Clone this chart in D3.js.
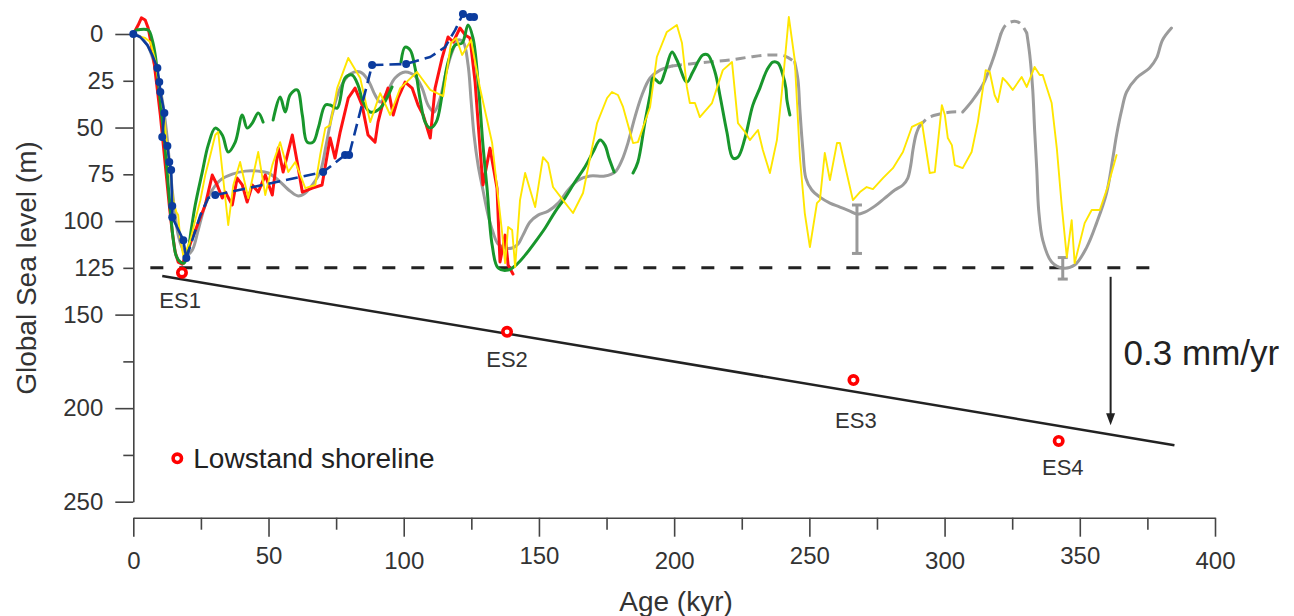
<!DOCTYPE html>
<html>
<head>
<meta charset="utf-8">
<script src="https://cdn.jsdelivr.net/npm/d3@7"></script>
<style>
  html, body { margin: 0; padding: 0; background: #fff; }
  svg { display: block; font-family: "Liberation Sans", Arial, sans-serif; }
</style>
</head>
<body>
<svg id="chart" width="1294" height="616"></svg>
<script>
// ---- data: [age (kyr), sea level below present (m)] ----
const graySolid = [
  [[0,0],[2.6,1.6],[5.2,5.9],[7.4,13.9],[9.2,24.6],[10.7,35.3],[12.2,51.3],[13.3,67.4],[14.4,83.4],[15.5,96.8],[16.6,107.5],[18.1,114.4],[19.6,118.2],[21.8,115.5],[24.0,104.8],[26.6,91.4],[29.2,83.4],[32.2,78.1],[36.6,74.9],[41.4,73.3],[46.2,73.3],[49.9,74.3],[53.6,78.1],[58.0,84.0],[61.0,86.6],[63.6,85.0],[66.2,80.7],[69.1,73.8],[71.3,59.4],[73.5,43.3],[76.5,28.9],[80.2,21.4],[83.9,20.3],[86.8,24.6],[89.4,32.6],[91.3,36.4],[93.9,31.0],[96.8,23.5],[100.5,20.3],[104.2,22.5],[106.8,28.9],[109.0,38.0],[111.2,41.7],[113.5,34.2],[115.7,20.3],[117.9,9.6],[120.1,3.2],[122.0,4.3],[123.8,16.6],[124.9,35.3],[126.0,54.0],[127.5,70.1],[129.3,83.4],[131.2,96.8],[133.0,105.9],[134.9,112.3],[137.5,114.4],[140.1,114.4],[142.3,112.3],[144.1,107.5],[146.7,100.5],[149.7,96.8],[153.4,94.7],[157.1,90.4],[160.8,83.4],[164.5,78.1],[168.9,75.9],[174.4,75.9],[178.1,73.8],[180.7,67.4],[183.0,57.8],[185.5,44.4],[188.1,32.6],[191.1,23.5],[194.8,19.3],[199.2,17.1]],
  [[244.6,15.0],[245.8,24.6],[246.5,40.6],[247.6,62.0],[248.7,77.0],[250.9,83.4],[253.9,87.2],[257.6,90.4],[261.3,92.5],[265.0,94.7],[267.6,96.3],[270.5,95.2],[274.2,92.0],[277.9,87.7],[281.6,83.4],[284.6,80.7],[286.4,77.0],[287.5,70.1],[288.3,62.0],[289.4,54.0],[290.5,49.7]],
  [[306.7,41.7],[310.4,35.3],[314.1,27.3],[317.8,13.9],[320.8,0]],
  [[330.4,-0.5],[331.5,11.2],[332.6,29.9],[333.3,51.3],[334.1,72.7],[334.8,94.1],[336.3,110.2],[339.6,121.9],[343.7,125.1],[348.1,123.5],[352.6,113.9],[356.2,101.1],[359.9,85.0],[362.1,67.4],[363.6,54.0],[365.5,40.6],[367.3,31.0],[371.0,23.5],[375.8,18.2],[378.4,12.8],[380.6,3.2],[383.9,-3.2]]
];
const grayDashed = [
  [[199.2,17.1],[205.8,16.0],[213.2,14.9],[220.6,13.9],[228.0,12.3],[235.4,11.2],[241.0,11.8],[244.6,15.0]],
  [[290.5,49.7],[293.8,44.9],[298.2,42.8],[302.7,41.7],[306.7,41.7]],
  [[320.8,0],[322.6,-4.8],[325.2,-6.7],[327.8,-5.9],[330.4,-0.5]]
];
const grayErrAge = [267.6, 343.7];
const grayErrLow = [91.4, 119.5];
const grayErrHigh = [117.3, 131.0];

const redCurve = [[0,0],[1.8,-4.8],[3.0,-8.6],[4.4,-7.5],[5.5,-3.2],[6.7,5.9],[7.8,16.6],[8.9,29.9],[10.0,43.3],[11.1,59.4],[12.2,75.4],[13.3,91.4],[14.4,105.9],[15.5,116.6],[16.6,121.9],[18.1,123.0],[20.0,116.6],[21.8,109.1],[23.7,102.1],[26.6,91.4],[29.2,75.4],[31.0,80.7],[32.9,87.7],[34.0,84.5],[36.6,91.4],[38.4,77.0],[40.3,80.7],[42.1,89.8],[44.0,80.7],[46.2,84.5],[48.8,75.4],[51.4,86.1],[53.6,61.0],[55.4,73.8],[58.8,54.0],[60.6,68.4],[62.5,84.5],[66.2,82.4],[69.8,80.7],[72.8,55.6],[74.6,66.3],[76.5,52.4],[79.5,34.2],[82.0,28.9],[84.6,38.0],[86.8,54.0],[89.4,57.8],[90.5,47.1],[92.4,36.4],[94.2,28.9],[96.1,43.3],[97.9,34.2],[100.5,25.7],[103.1,28.9],[105.3,38.0],[107.2,43.3],[109.8,55.6],[111.6,28.9],[114.2,12.8],[116.4,1.6],[118.3,4.3],[120.8,-3.2],[122.7,0.5],[124.5,2.1],[126.4,25.7],[128.2,61.0],[129.3,80.7],[131.9,61.0],[134.5,82.4],[135.6,121.9],[137.5,107.5],[138.6,123.5],[140.4,128.3]];

const greenCurve = [
  [[1.1,-2.1],[5.5,-2.1],[7.0,3.2],[8.1,11.2],[9.2,24.6],[10.3,40.6],[11.5,56.7],[12.6,75.4],[13.7,94.1],[14.8,110.2],[15.9,118.7],[17.4,121.9],[18.8,122.5],[20.3,115.5],[21.4,104.8],[22.9,91.4],[25.5,73.8],[27.7,59.4],[30.3,50.3],[32.9,54.0],[35.1,63.1],[37.7,57.8],[40.3,43.3],[42.1,50.3],[44.0,47.6],[46.2,42.2],[48.0,47.1]],
  [[51.7,46.0],[54.3,33.7],[56.2,41.7],[58.0,32.6],[60.6,29.9],[62.5,43.3],[64.3,57.8],[66.5,57.8],[68.4,50.3],[71.0,38.0],[72.8,38.0],[75.4,39.6],[78.3,23.5],[80.9,21.9],[83.1,27.3],[85.0,36.4],[87.6,41.7],[91.3,39.6],[95.7,28.3]],
  [[99.0,15.0],[100.5,7.0],[102.4,8.6],[104.2,18.2],[106.1,35.3],[107.9,47.1],[109.8,50.3],[112.0,47.1],[114.2,32.6],[116.4,15.0],[119.0,5.9],[121.6,4.8],[123.8,-4.8],[125.6,2.1],[127.5,25.7],[129.3,59.4],[130.8,82.4],[132.7,112.8],[134.9,125.1],[138.6,126.2],[141.9,123.0],[144.9,118.2],[148.6,111.2],[152.3,103.7],[155.9,95.2],[159.6,87.7],[163.3,79.1],[167.0,71.1],[170.0,63.1],[172.6,56.7],[174.4,59.4],[175.9,66.3],[177.8,73.8]],
  [[184.8,74.3],[186.6,68.4],[189.2,47.1],[191.1,32.6],[192.2,23.5],[194.8,26.2],[196.6,20.3],[199.2,9.6],[201.0,13.9],[204.7,25.7],[206.9,20.3],[210.6,11.2],[212.5,11.2],[215.1,20.3],[216.9,32.6],[219.5,52.4],[221.7,66.3],[223.6,65.8],[226.2,55.6],[229.1,38.0],[231.7,28.9],[234.3,19.3],[236.5,15.0],[238.4,15.5],[240.2,21.9],[241.3,28.9],[241.7,35.3],[242.8,43.3]]
];

const yellowCurve = [[1.8,1.1],[4.4,2.1],[6.3,4.3],[8.1,13.9],[9.2,24.6],[10.3,32.6],[11.5,46.0],[12.6,62.0],[13.7,75.4],[14.8,88.8],[15.9,95.2],[16.6,96.8],[17.4,110.2],[18.5,118.7],[19.6,115.5],[21.1,110.2],[22.9,99.5],[24.8,88.8],[26.6,75.4],[28.5,64.7],[30.3,54.0],[31.4,52.4],[32.9,72.7],[35.1,102.1],[37.0,80.7],[39.5,68.4],[42.5,87.7],[46.2,63.1],[48.8,86.1],[51.4,70.1],[54.3,57.8],[57.3,73.8],[59.9,68.4],[63.6,82.4],[67.3,80.7],[69.1,64.7],[71.0,50.3],[72.8,48.7],[75.4,28.9],[79.5,12.8],[83.9,23.5],[87.6,47.1],[91.3,31.6],[95.0,43.3],[98.7,28.9],[104.9,20.3],[109.8,29.9],[114.6,33.2],[117.5,4.8],[119.4,2.1],[121.6,11.2],[124.9,3.2],[128.2,28.9],[132.7,58.3],[134.5,81.8],[136.4,106.4],[137.5,122.5],[138.6,103.2],[140.1,104.8],[141.2,124.6],[143.0,88.8],[144.9,74.3],[148.6,92.5],[151.5,65.8],[153.4,69.0],[155.2,81.8],[158.9,88.8],[162.6,95.7],[166.3,85.0],[171.5,47.6],[175.2,34.2],[177.0,31.0],[179.2,32.6],[181.1,39.0],[184.8,58.3],[186.6,57.8],[191.1,39.0],[193.6,12.3],[197.3,-1.1],[201.0,-4.8],[202.9,4.8],[204.7,28.3],[205.8,36.9],[207.7,36.9],[209.5,44.4],[214.0,36.9],[218.0,19.3],[221.4,15.0],[223.6,47.6],[226.2,52.4],[228.0,56.7],[231.0,51.3],[232.8,62.0],[235.4,74.3],[238.0,56.7],[239.8,31.6],[242.4,-9.1],[244.6,13.9],[246.5,65.8],[248.3,95.7],[250.2,113.9],[252.8,90.4],[253.9,88.8],[255.7,63.6],[257.6,78.1],[260.2,58.3],[261.3,58.3],[263.8,74.3],[266.1,88.8],[268.7,84.5],[271.2,81.8],[273.5,82.9],[277.2,77.0],[280.9,71.7],[284.6,63.1],[287.9,49.7],[291.6,47.1],[294.5,74.3],[296.4,73.8],[299.0,38.0],[300.1,43.3],[301.2,55.6],[302.7,59.4],[303.8,70.1],[306.7,71.7],[310.0,63.1],[312.3,47.1],[315.2,19.3],[316.7,20.3],[318.5,32.6],[319.7,36.4],[321.5,23.5],[323.0,25.7],[325.2,29.9],[328.5,23.0],[330.4,28.3],[333.3,17.6],[335.2,21.9],[336.3,21.9],[339.6,36.9],[341.5,61.0],[343.3,91.4],[345.2,119.3],[347.0,99.5],[348.1,122.5],[351.8,101.1],[354.4,94.1],[357.4,94.1],[360.3,81.8],[363.6,64.7]];

const blueSolid = [[0,0],[2.6,1.6],[5.2,5.9],[7.0,11.2],[8.9,18.2],[9.6,25.7],[10.0,31.0],[11.5,42.2],[10.7,55.1],[12.6,59.9],[13.3,68.4],[14.0,72.7],[14.4,92.0],[14.4,97.9],[18.5,110.2],[19.6,119.8]];
const blueDashed = [[19.6,119.8],[21.8,110.2],[24.8,96.8],[27.7,87.7],[30.3,86.1],[70.2,73.8],[78.3,64.7],[79.8,64.7],[88.3,16.6],[100.9,16.0],[109.8,12.3],[115.3,7.0],[119.0,-2.1],[121.9,-10.7],[124.5,-9.1],[126.0,-9.1]];
const blueDots = [[0,0],[8.9,18.2],[9.6,25.7],[10.0,31.0],[11.5,42.2],[10.7,55.1],[12.6,59.9],[13.3,68.4],[14.0,72.7],[14.4,92.0],[14.4,97.9],[18.5,110.2],[19.6,119.8],[30.3,86.1],[70.2,73.8],[78.3,64.7],[79.8,64.7],[88.3,16.6],[100.9,16.0],[121.9,-10.7],[124.5,-9.1],[126.0,-9.1]];

// lowstand shorelines
const esNames = ["ES1", "ES2", "ES3", "ES4"];
const esAge = [18.0, 138.2, 266.3, 342.2];
const esLevel = [127.6, 159.2, 185.0, 217.5];
const esLabelAge = [17.3, 138.2, 267.2, 343.7];
const esLabelLevel = [146.5, 177.9, 210.7, 235.8];

const trendLine = [[10.7, 129.4], [385.0, 219.8]];
const lowstandLevel = 125;
const lowstandSpan = [6.3, 377.0];
const rateArrow = { age: 361.4, from: 129.8, to: 209.1 };
const rateLabel = "0.3 mm/yr";

const xMajor = [0, 50, 100, 150, 200, 250, 300, 350, 400];
const xMinor = [25, 75, 125, 175, 225, 275, 325, 375];
const yMajor = [0, 50, 100, 150, 200, 250];
const yMinor = [25, 75, 125, 175, 225];
const yMinorLabelled = [25, 75, 125];

// ---- chart ----
const svg = d3.select("#chart");
const x = d3.scaleLinear().domain([0, 400]).range([133.3, 1215]);
const y = d3.scaleLinear().domain([0, 250]).range([34, 501.7]);

const straight = d3.line().x(d => x(d[0])).y(d => y(d[1]));
const smooth = d3.line().x(d => x(d[0])).y(d => y(d[1])).curve(d3.curveCatmullRom.alpha(0.5));

// Axes
const axisColor = "#444";
const textColor = "#333";

svg.append("g")
    .attr("transform", `translate(${x(0)},0)`)
    .call(d3.axisLeft(y).tickValues(yMajor).tickSize(18).tickSizeOuter(0).tickPadding(12));
const yAxMinor = svg.append("g")
    .attr("transform", `translate(${x(0)},0)`)
    .call(d3.axisLeft(y).tickValues(yMinor).tickSize(10).tickPadding(9)
        .tickFormat(d => yMinorLabelled.includes(d) ? d : ""));
yAxMinor.select(".domain").remove();

const xAx = svg.append("g")
    .attr("transform", `translate(0,517.7)`)
    .call(d3.axisBottom(x).tickValues(xMajor).tickSize(19).tickSizeOuter(0).tickPadding(15));
xAx.selectAll(".tick text")
    .attr("y", (d, i) => i % 2 ? 29.5 : 34.5);
const xAxMinor = svg.append("g")
    .attr("transform", `translate(0,517.7)`)
    .call(d3.axisBottom(x).tickValues(xMinor).tickSize(12).tickFormat(""));
xAxMinor.select(".domain").remove();

svg.selectAll(".domain, .tick line").attr("stroke", axisColor).attr("stroke-width", 1.6);
svg.selectAll(".tick text")
    .attr("fill", textColor)
    .style("font-size", "24px")
    .style("font-family", "'Liberation Sans', Arial, sans-serif");

// Axis titles
svg.append("text")
    .attr("x", 676).attr("y", 611)
    .attr("text-anchor", "middle")
    .attr("fill", textColor)
    .style("font-size", "28px")
    .text("Age (kyr)");

svg.append("text")
    .attr("transform", "translate(36,268) rotate(-90)")
    .attr("text-anchor", "middle")
    .attr("fill", textColor)
    .style("font-size", "28px")
    .text("Global Sea level (m)");

// Lowstand reference and trend
svg.append("line")
    .attr("x1", x(lowstandSpan[0])).attr("x2", x(lowstandSpan[1]))
    .attr("y1", y(lowstandLevel)).attr("y2", y(lowstandLevel))
    .attr("stroke", "#222").attr("stroke-width", 3)
    .attr("stroke-dasharray", "13,16");

svg.append("path")
    .attr("d", straight(trendLine))
    .attr("fill", "none").attr("stroke", "#222").attr("stroke-width", 2.5);

// Curves
const curves = svg.append("g").attr("fill", "none")
    .attr("stroke-linejoin", "round").attr("stroke-linecap", "round");

graySolid.forEach(seg => {
  curves.append("path").attr("d", smooth(seg))
      .attr("stroke", "#9b9b9b").attr("stroke-width", 3);
});
grayDashed.forEach(seg => {
  curves.append("path").attr("d", smooth(seg))
      .attr("stroke", "#9b9b9b").attr("stroke-width", 3)
      .attr("stroke-linecap", "butt")
      .attr("stroke-dasharray", "10,6");
});

// Gray error bars
grayErrAge.forEach((a, i) => {
  const g = curves.append("g").attr("stroke", "#999").attr("stroke-width", 3)
      .attr("stroke-linecap", "butt");
  g.append("line").attr("x1", x(a)).attr("x2", x(a))
      .attr("y1", y(grayErrLow[i])).attr("y2", y(grayErrHigh[i]));
  [grayErrLow[i], grayErrHigh[i]].forEach(v => {
    g.append("line").attr("x1", x(a) - 5).attr("x2", x(a) + 5)
        .attr("y1", y(v)).attr("y2", y(v));
  });
});

curves.append("path").attr("d", straight(redCurve))
    .attr("stroke", "#ff1111").attr("stroke-width", 3);

greenCurve.forEach(seg => {
  curves.append("path").attr("d", smooth(seg))
      .attr("stroke", "#18962c").attr("stroke-width", 3);
});

curves.append("path").attr("d", straight(yellowCurve))
    .attr("stroke", "#ffe600").attr("stroke-width", 1.9);

curves.append("path").attr("d", straight(blueSolid))
    .attr("stroke", "#0c3c9e").attr("stroke-width", 2.6);
curves.append("path").attr("d", straight(blueDashed))
    .attr("stroke", "#0c3c9e").attr("stroke-width", 2.6)
    .attr("stroke-linecap", "butt")
    .attr("stroke-dasharray", "12,6");
svg.append("g").selectAll("circle")
    .data(blueDots)
    .join("circle")
    .attr("cx", d => x(d[0])).attr("cy", d => y(d[1]))
    .attr("r", 4).attr("fill", "#0c3c9e");

// Rate arrow
const ax = x(rateArrow.age), tipY = y(rateArrow.to);
svg.append("line")
    .attr("x1", ax).attr("x2", ax)
    .attr("y1", y(rateArrow.from)).attr("y2", tipY - 8)
    .attr("stroke", "#222").attr("stroke-width", 2);
svg.append("path")
    .attr("d", `M${ax - 4.5},${tipY - 12}L${ax},${tipY}L${ax + 4.5},${tipY - 12}Z`)
    .attr("fill", "#222");
svg.append("text")
    .attr("x", ax + 13).attr("y", 365)
    .attr("fill", "#222")
    .style("font-size", "35px")
    .text(rateLabel);

// Lowstand shoreline markers
svg.append("g").selectAll("circle")
    .data(esNames)
    .join("circle")
    .attr("cx", (d, i) => x(esAge[i])).attr("cy", (d, i) => y(esLevel[i]))
    .attr("r", 4.2).attr("fill", "#fff")
    .attr("stroke", "#ff0000").attr("stroke-width", 3.6);

svg.append("g").selectAll("text")
    .data(esNames)
    .join("text")
    .attr("x", (d, i) => x(esLabelAge[i])).attr("y", (d, i) => y(esLabelLevel[i]))
    .attr("text-anchor", "middle")
    .attr("fill", textColor)
    .style("font-size", "22px")
    .text(d => d);

// Legend
const legend = svg.append("g").attr("transform", "translate(177.3,458.3)");
legend.append("circle").attr("r", 4.2).attr("fill", "#fff")
    .attr("stroke", "#ff0000").attr("stroke-width", 3.6);
legend.append("text")
    .attr("x", 16).attr("y", 10)
    .attr("fill", "#222")
    .style("font-size", "28px")
    .text("Lowstand shoreline");
</script>
</body>
</html>
